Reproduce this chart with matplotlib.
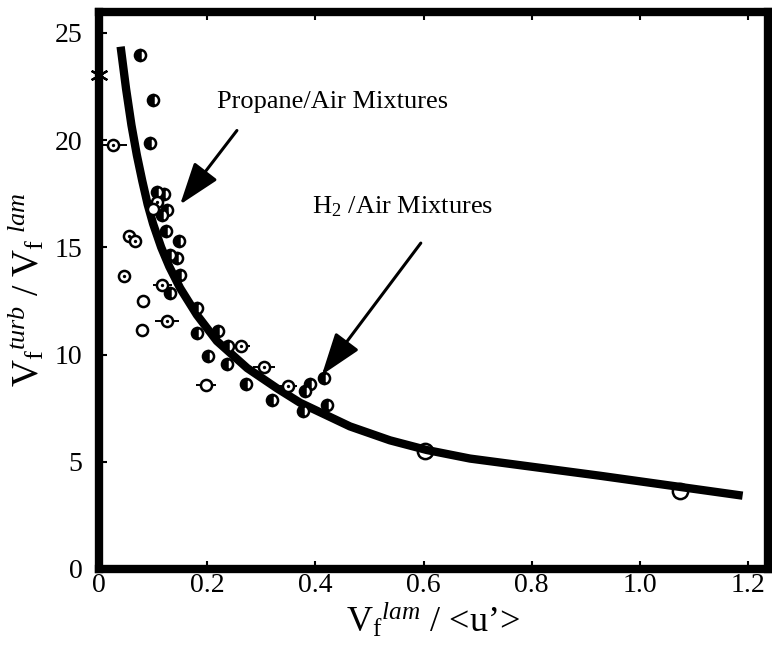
"""
Turbulent to laminar flame speed ratio against laminar flame speed over <u'>.
"""
import matplotlib

matplotlib.use("Agg")
import matplotlib.pyplot as plt

plt.rcParams["font.family"] = ["Liberation Serif", "DejaVu Serif"]
plt.rcParams["mathtext.fontset"] = "custom"
plt.rcParams["mathtext.rm"] = "Liberation Serif"
plt.rcParams["mathtext.it"] = "Liberation Serif:italic"

# half filled circles
half_x = [0.075, 0.099, 0.094, 0.107, 0.120, 0.126, 0.117, 0.124, 0.148, 0.150,
          0.131, 0.181, 0.181, 0.238, 0.320, 0.390, 0.381, 0.416, 0.421, 0.377,
          0.131, 0.144, 0.202, 0.237, 0.272, 0.220]
half_y = [23.97, 21.86, 19.86, 17.56, 17.49, 16.72, 16.49, 15.74, 15.32, 13.72,
          12.88, 12.18, 11.00, 10.40, 7.87, 8.62, 8.29, 8.90, 7.63, 7.35,
          14.66, 14.52, 9.93, 9.55, 8.62, 11.10]

# open circles with a centre dot (some with error bars)
dot_x = [0.026, 0.107, 0.056, 0.067, 0.046, 0.117, 0.126, 0.263, 0.305, 0.349]
dot_y = [19.77, 17.10, 15.55, 15.32, 13.68, 13.26, 11.57, 10.40, 9.41, 8.52]
dot_err = [0.026, 0, 0, 0, 0, 0.018, 0.022, 0.016, 0.020, 0.018]

# plain open circles
open_x = [0.081, 0.080, 0.198, 0.100]
open_y = [12.50, 11.15, 8.57, 16.78]
open_err = [0, 0, 0.019, 0]

big_x = [0.603, 1.074]
big_y = [5.48, 3.65]

star_x = [0.0]
star_y = [23.03]

# fitted correlation curve
curve_x = [0.040, 0.050, 0.060, 0.070, 0.080, 0.090, 0.100, 0.115, 0.130, 0.150,
           0.181, 0.218, 0.274, 0.329, 0.372, 0.464, 0.538, 0.606, 0.686, 0.926,
           1.190]
curve_y = [24.36, 22.40, 20.70, 19.30, 18.10, 17.00, 16.10, 15.00, 14.10, 13.10,
           11.85, 10.63, 9.37, 8.43, 7.75, 6.65, 6.00, 5.55, 5.15, 4.35,
           3.42]

x_ticks = [0, 0.2, 0.4, 0.6, 0.8, 1.0, 1.2]
x_labels = ["0", "0.2", "0.4", "0.6", "0.8", "1.0", "1.2"]
y_ticks = [0, 5, 10, 15, 20, 25]


def draw(ax) -> None:
    ax.plot(curve_x, curve_y, color="black", lw=6, solid_capstyle="butt",
            solid_joinstyle="round", zorder=3)

    ax.errorbar(dot_x, dot_y, xerr=dot_err, fmt="none", ecolor="black",
                elinewidth=1.4, capsize=0, zorder=4)
    ax.errorbar(open_x, open_y, xerr=open_err, fmt="none", ecolor="black",
                elinewidth=1.4, capsize=0, zorder=4)

    ax.plot(half_x, half_y, "o", ms=8, mew=1.8, mec="black", mfc="black",
            fillstyle="left", markerfacecoloralt="white", zorder=5)
    ax.plot(dot_x, dot_y, "o", ms=8, mew=1.8, mec="black", mfc="white", zorder=5)
    ax.plot(dot_x, dot_y, "o", ms=2.4, mew=0, mfc="black", zorder=6)
    ax.plot(open_x, open_y, "o", ms=8, mew=1.8, mec="black", mfc="white", zorder=5)
    ax.plot(big_x, big_y, "o", ms=11, mew=1.8, mec="black", mfc="none", zorder=5)
    ax.plot(star_x, star_y, marker=(6, 2, 0), ms=13, mew=1.6, color="black",
            ls="none", zorder=6, clip_on=False)

    arrow = dict(arrowstyle="-|>,head_length=2.6,head_width=0.9", color="black",
                 lw=2.2, shrinkA=0, shrinkB=0)
    ax.annotate("", xy=(0.150, 17.0), xytext=(0.255, 20.45), arrowprops=arrow)
    ax.annotate("", xy=(0.412, 9.05), xytext=(0.595, 15.2), arrowprops=arrow)

    ax.text(0.218, 21.8, "Propane/Air Mixtures", fontsize=19, ha="left", va="center")
    ax.text(0.394, 16.9, r"H$_2$ /Air Mixtures", fontsize=19, ha="left", va="center")


def main() -> None:
    fig = plt.figure(figsize=(7.72, 6.59), dpi=100)
    ax = fig.add_axes([99 / 772, 90 / 659, 668.5 / 772, 557.5 / 659])

    draw(ax)

    ax.set_xlim(0, 1.236)
    ax.set_ylim(0, 26)
    ax.set_xticks(x_ticks)
    ax.set_xticklabels(x_labels)
    ax.set_yticks(y_ticks)
    ax.tick_params(direction="in", length=6, width=1.5, labelsize=20, top=True)
    ax.tick_params(axis="x", pad=3)
    ax.tick_params(axis="y", pad=12)
    for spine in ax.spines.values():
        spine.set_linewidth(6)

    ax.set_xlabel(r"$\mathrm{V_f}^{lam}$ / <u’>", fontsize=26, labelpad=2)
    ax.set_ylabel(r"$\mathrm{V_f}^{turb}\ /\ \mathrm{V_f}^{\ lam}$", fontsize=27,
                  labelpad=6)

    fig.savefig("out.png", dpi=100)


if __name__ == "__main__":
    main()
